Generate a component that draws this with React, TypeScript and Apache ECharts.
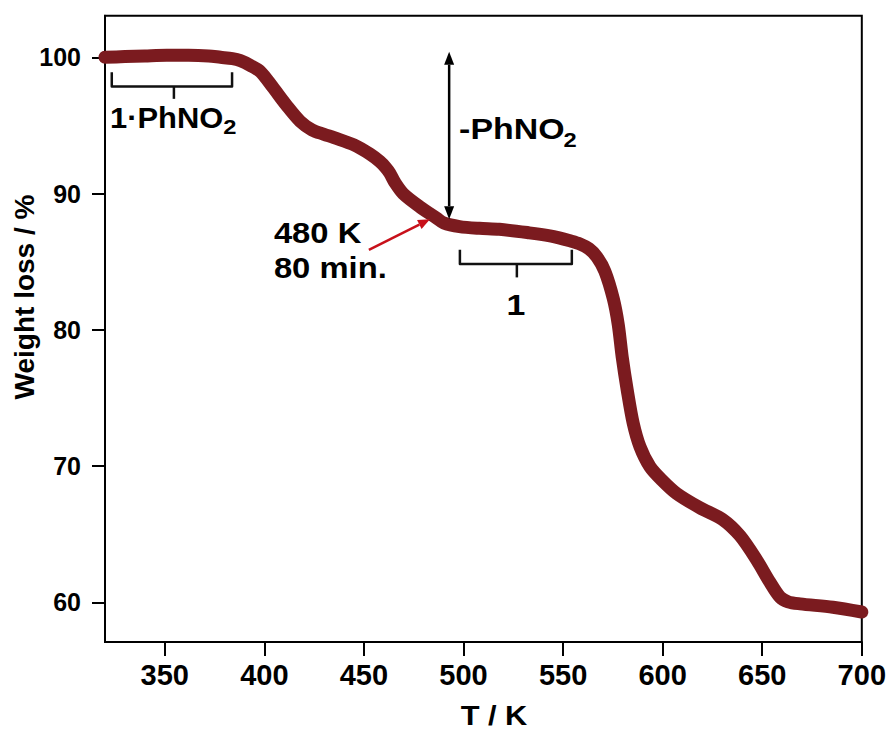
import React, { useEffect, useRef } from 'react';
import * as echarts from 'echarts';

// ---- data ----
const temperatures = [320, 330, 340, 351, 362, 372, 378, 384, 388, 393, 398, 404, 411, 418, 424, 430, 435, 445, 453, 458, 461, 463, 465.6, 469.7, 478, 486.5, 490, 498, 508, 518, 533, 543.4, 548, 553, 558.5, 563, 567, 571, 575.2, 577.7, 579.7, 582.2, 585.2, 588.6, 593.6, 599.5, 607, 618.7, 630, 638.8, 647.3, 653.8, 658.9, 663, 669, 685.5, 700];
const weights = [100.0, 100.05, 100.1, 100.15, 100.15, 100.1, 100.0, 99.9, 99.75, 99.4, 98.95, 97.85, 96.5, 95.3, 94.67, 94.35, 94.1, 93.57, 92.9, 92.35, 91.9, 91.5, 90.8, 90.0, 89.04, 88.2, 87.85, 87.58, 87.45, 87.38, 87.12, 86.9, 86.75, 86.55, 86.3, 85.95, 85.35, 84.3, 82.3, 80.4, 78.0, 75.6, 73.16, 71.44, 69.97, 69.0, 68.0, 66.95, 66.1, 64.9, 63.1, 61.5, 60.4, 60.05, 59.9, 59.65, 59.3];
const xTicks = [350, 400, 450, 500, 550, 600, 650, 700];
const yTicks = [60, 70, 80, 90, 100];
const xRange = [320, 700];
const yRange = [57.1, 103.05];

const xTitle = 'T / K';
const yTitle = 'Weight loss / %';

// annotations, in data units [T, weight]
const bracketPhNO2 = { x1: 323.4, x2: 383.8, xm: 354.6, top: 98.9, bar: 97.85, tick: 96.95 };
const labelPhNO2 = { text: '1·PhNO', sub: '2', at: [322.5, 95.58], subAt: [379.4, 94.85] };
const bracketOne = { x1: 498.2, x2: 554.4, xm: 526.8, top: 85.87, bar: 84.84, tick: 83.85 };
const labelOne = { text: '1', at: [526.3, 81.83] };
const lossArrow = { x: 492.8, top: 100.41, bottom: 88.12 };
const labelLoss = { text: '-PhNO', sub: '2', at: [497.8, 94.73], subAt: [550.2, 93.9] };
const tempLabels = [
  { text: '480 K', at: [404.8, 87.09] },
  { text: '80 min.', at: [404.8, 84.55] },
];
const redArrow = { from: [452.5, 85.87], to: [483.2, 88.12] };

const FONT = '"Liberation Sans", Arial, Helvetica, sans-serif';

export default function App() {
  const ref = useRef<HTMLDivElement>(null);
  useEffect(() => {
    if (!ref.current) return;
    const chart = echarts.init(ref.current, undefined, { renderer: 'svg' });
    const seriesData = temperatures.map((t, i) => [t, weights[i]]);
    chart.setOption({
      animation: false,
      backgroundColor: '#fff',
      grid: {
        left: 105, right: 26.7, top: 15.7, bottom: 89,
        show: true, borderColor: '#000', borderWidth: 2, backgroundColor: 'transparent',
      },
      xAxis: {
        type: 'value', min: xRange[0], max: xRange[1],
        splitLine: { show: false },
        axisLine: { show: true, lineStyle: { color: '#000', width: 2 } },
        axisTick: { show: true, length: 14, customValues: xTicks, lineStyle: { color: '#000', width: 2 } },
        axisLabel: {
          customValues: xTicks, margin: 18, color: '#000',
          fontSize: 29, fontWeight: 'bold', fontFamily: FONT,
        },
      },
      yAxis: {
        type: 'value', min: yRange[0], max: yRange[1],
        splitLine: { show: false },
        axisLine: { show: true, lineStyle: { color: '#000', width: 2 } },
        axisTick: { show: true, length: 13, customValues: yTicks, lineStyle: { color: '#000', width: 2 } },
        axisLabel: {
          customValues: yTicks, margin: 24, color: '#000',
          fontSize: 25, fontWeight: 'bold', fontFamily: FONT,
        },
      },
      series: [
        {
          type: 'line',
          data: seriesData,
          showSymbol: false,
          smooth: 0.3,
          clip: false,
          lineStyle: { color: '#7B1B1F', width: 13, cap: 'round', join: 'round' },
          z: 3,
        },
      ],
    });

    const P = (x: number, y: number): number[] =>
      chart.convertToPixel({ seriesIndex: 0 }, [x, y]) as number[];

    const textEl = (text: string, at: number[], size: number, align = 'left', sx = 1.13) => {
      const p = P(at[0], at[1]);
      return {
        type: 'text',
        x: p[0], y: p[1], z: 10, scaleX: sx,
        style: {
          text, fill: '#000',
          font: `bold ${size}px ${FONT}`,
          textAlign: align, textVerticalAlign: 'middle',
          align, verticalAlign: 'middle',
        },
      };
    };

    const bracket = (b: any) => {
      const a = P(b.x1, b.top), c = P(b.x1, b.bar), d = P(b.x2, b.bar), e = P(b.x2, b.top);
      const m1 = P(b.xm, b.bar), m2 = P(b.xm, b.tick);
      return [
        {
          type: 'polyline', z: 10,
          shape: { points: [a, c, d, e] },
          style: { stroke: '#111', lineWidth: 2.5, fill: null, lineJoin: 'round' },
        },
        {
          type: 'line', z: 10,
          shape: { x1: m1[0], y1: m1[1], x2: m2[0], y2: m2[1] },
          style: { stroke: '#111', lineWidth: 2.5 },
        },
      ];
    };

    const arrowHead = (tip: number[], from: number[], len: number, half: number, color: string) => {
      const dx = tip[0] - from[0], dy = tip[1] - from[1];
      const L = Math.hypot(dx, dy) || 1;
      const ux = dx / L, uy = dy / L;
      const bx = tip[0] - ux * len, by = tip[1] - uy * len;
      return {
        poly: {
          type: 'polygon', z: 10,
          shape: { points: [tip, [bx - uy * half, by + ux * half], [bx + uy * half, by - ux * half]] },
          style: { fill: color },
        },
        base: [bx, by],
      };
    };

    // vertical double arrow
    const vt = P(lossArrow.x, lossArrow.top);
    const vb = P(lossArrow.x, lossArrow.bottom);
    const headTop = arrowHead(vt, vb, 13, 5, '#000');
    const headBot = arrowHead(vb, vt, 13, 5, '#000');

    // red arrow
    const rf = P(redArrow.from[0], redArrow.from[1]);
    const rt = P(redArrow.to[0], redArrow.to[1]);
    const headRed = arrowHead(rt, rf, 12, 5, '#C8101A');

    const graphics: any[] = [
      ...bracket(bracketPhNO2),
      ...bracket(bracketOne),
      textEl(labelPhNO2.text, labelPhNO2.at, 30, 'left', 1.03),
      textEl(labelPhNO2.sub, labelPhNO2.subAt, 21),
      textEl(labelOne.text, labelOne.at, 30, 'center'),
      textEl(labelLoss.text, labelLoss.at, 30),
      textEl(labelLoss.sub, labelLoss.subAt, 21),
      ...tempLabels.map((t) => textEl(t.text, t.at, 29)),
      {
        type: 'line', z: 10,
        shape: { x1: headTop.base[0], y1: headTop.base[1], x2: headBot.base[0], y2: headBot.base[1] },
        style: { stroke: '#000', lineWidth: 2.5 },
      },
      headTop.poly,
      headBot.poly,
      {
        type: 'line', z: 10,
        shape: { x1: rf[0], y1: rf[1], x2: headRed.base[0], y2: headRed.base[1] },
        style: { stroke: '#C8101A', lineWidth: 2.5 },
      },
      headRed.poly,
      {
        type: 'text', x: 494, y: 715, z: 10, scaleX: 1.1,
        style: {
          text: xTitle, fill: '#000', font: `bold 28px ${FONT}`,
          textAlign: 'center', textVerticalAlign: 'middle', align: 'center', verticalAlign: 'middle',
        },
      },
      {
        type: 'text', x: 24, y: 297, rotation: Math.PI / 2, z: 10,
        style: {
          text: yTitle, fill: '#000', font: `bold 28px ${FONT}`,
          textAlign: 'center', textVerticalAlign: 'middle', align: 'center', verticalAlign: 'middle',
        },
      },
    ];
    chart.setOption({ graphic: { elements: graphics } });

    return () => chart.dispose();
  }, []);

  return (
    <div
      ref={ref}
      style={{ position: 'absolute', left: 0, top: 0, width: 889, height: 731, background: '#fff' }}
    />
  );
}
